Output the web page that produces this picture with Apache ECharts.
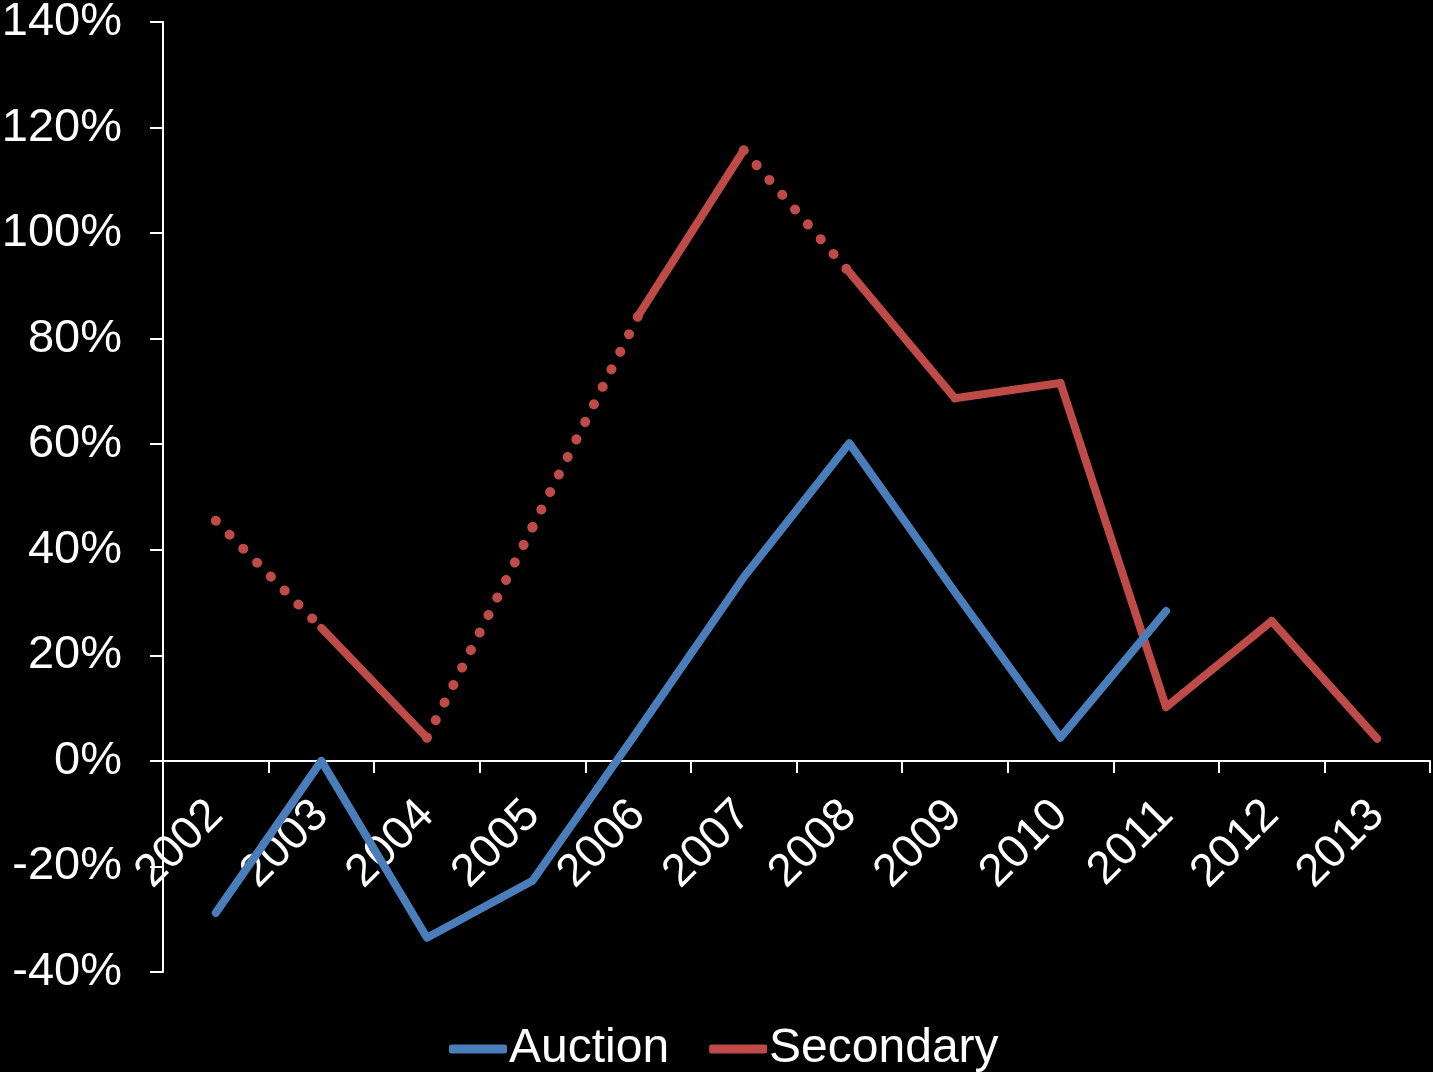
<!DOCTYPE html>
<html>
<head>
<meta charset="utf-8">
<script src="https://cdn.jsdelivr.net/npm/echarts@6/dist/echarts.min.js"></script>
<style>
html,body{margin:0;padding:0;background:#000;}
#chart{width:1433px;height:1072px;}
</style>
</head>
<body>
<div id="chart"></div>
<script>
const years = ['2002','2003','2004','2005','2006','2007','2008','2009','2010','2011','2012','2013'];
const auction = [-28.8, 0, -33.5, -22.7, 5.8, 34.8, 60.2, 32, 4.4, 28.4, null, null];
const secondary = [45.5, 25.2, 4.4, 44.3, 84.3, 115.7, 92.6, 68.7, 71.6, 10.2, 26.5, 4.2];
// style of each segment between consecutive years (dot = dotted, solid = solid)
const secondarySegmentStyle = ['dot','solid','dot','dot','solid','dot','solid','solid','solid','solid','solid'];
const yTicks = {min: -40, max: 140, interval: 20};

const FONT = "'Liberation Sans', Arial, sans-serif";
const BLUE = '#4A7EBB';
const RED = '#BE4B48';
const W = 1433, H = 1072;
const gridTop = 22, gridBottom = 100;
const plotH = H - gridTop - gridBottom;
// shift the category axis up so it sits on the zero line of the value axis
const zeroOffset = -plotH * (0 - yTicks.min) / (yTicks.max - yTicks.min);

const series = [{
  name: 'Auction', type: 'line', data: auction, symbol: 'none', z: 3,
  lineStyle: {color: BLUE, width: 8, cap: 'round', join: 'round'},
  itemStyle: {color: BLUE}
}];
secondarySegmentStyle.forEach((st, i) => {
  const d = secondary.map((v, j) => (j === i || j === i + 1) ? v : null);
  series.push({
    name: 'Secondary', type: 'line', data: d, symbol: 'none', z: 2,
    connectNulls: false,
    lineStyle: st === 'solid'
      ? {color: RED, width: 8, cap: 'round', join: 'round'}
      : {color: RED, width: 10, cap: 'round', type: [0.1, 19.5]},
    itemStyle: {color: RED}
  });
});

const chart = echarts.init(document.getElementById('chart'));
chart.setOption({
  backgroundColor: '#000',
  animation: false,
  textStyle: {fontFamily: FONT},
  grid: {left: 163, right: 3, top: gridTop, bottom: gridBottom, containLabel: false, outerBoundsMode: 'none'},
  legend: {
    data: ['Auction', 'Secondary'],
    bottom: -6, left: 444,
    itemWidth: 58, itemHeight: 9, itemGap: 40,
    icon: 'roundRect',
    textStyle: {color: '#fff', fontSize: 48, fontFamily: FONT, padding: [0, 0, 0, -3]}
  },
  xAxis: {
    type: 'category', data: years, boundaryGap: true, position: 'bottom',
    offset: zeroOffset,
    axisLine: {onZero: false, lineStyle: {color: '#fff', width: 2}},
    axisTick: {show: true, length: 12, inside: false, lineStyle: {color: '#fff', width: 2}},
    axisLabel: {color: '#fff', fontSize: 46, fontFamily: FONT, rotate: 45, margin: 47, interval: 0}
  },
  yAxis: {
    type: 'value', min: yTicks.min, max: yTicks.max, interval: yTicks.interval,
    splitLine: {show: false},
    axisLine: {show: true, onZero: false, lineStyle: {color: '#fff', width: 2}},
    axisTick: {show: true, length: 13, lineStyle: {color: '#fff', width: 2}},
    axisLabel: {color: '#fff', fontSize: 47, fontFamily: FONT, margin: 41, formatter: v => v + '%'}
  },
  series: series
});
</script>
</body>
</html>
